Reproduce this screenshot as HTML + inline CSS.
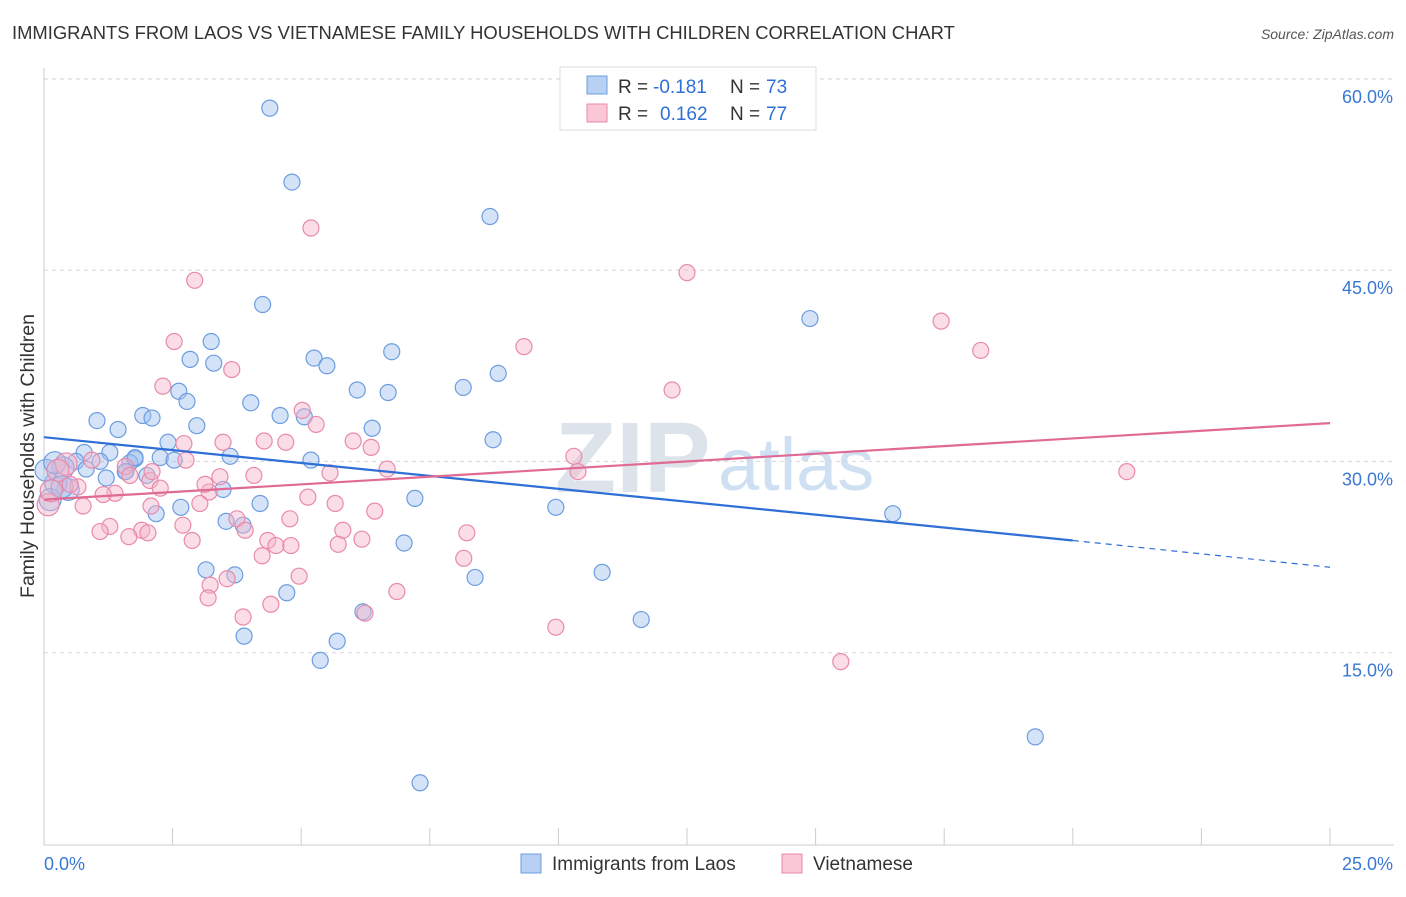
<!DOCTYPE html>
<html><head><meta charset="utf-8"><style>
body{margin:0;background:#fff;font-family:"Liberation Sans",sans-serif}
svg text{font-family:"Liberation Sans",sans-serif}
</style></head><body>
<svg id="chart" width="1406" height="892">
<text x="12" y="39" font-size="18.4" fill="#333">IMMIGRANTS FROM LAOS VS VIETNAMESE FAMILY HOUSEHOLDS WITH CHILDREN CORRELATION CHART</text>
<text x="1394" y="39" font-size="14" fill="#555" font-style="italic" text-anchor="end">Source: ZipAtlas.com</text>
<text x="555" y="492" font-size="100" fill="#dde3ea" font-family="Liberation Serif" font-weight="bold">ZIP</text>
<text x="718" y="490" font-size="74" fill="#cfe0f3">atlas</text>
<g id="grid"></g><g id="axes"></g><g id="pts"></g><g id="lines"></g>
<text transform="translate(34,456) rotate(-90)" font-size="19.5" fill="#333" text-anchor="middle">Family Households with Children</text>
<g>
<rect x="560" y="67" width="256" height="63" fill="#fff" stroke="#ddd"/>
<rect x="587" y="76" width="20" height="18" fill="#b8d0f4" stroke="#6d9de0"/>
<rect x="587" y="104" width="20" height="18" fill="#f9c7d6" stroke="#e98aab"/>
<text x="618" y="93" font-size="19" fill="#333">R =</text>
<text x="653" y="93" font-size="19" fill="#2f6fd6">-0.181</text>
<text x="730" y="93" font-size="19" fill="#333">N =</text>
<text x="766" y="93" font-size="19" fill="#2f6fd6">73</text>
<text x="618" y="120" font-size="19" fill="#333">R =</text>
<text x="660" y="120" font-size="19" fill="#2f6fd6">0.162</text>
<text x="730" y="120" font-size="19" fill="#333">N =</text>
<text x="766" y="120" font-size="19" fill="#2f6fd6">77</text>
</g>
<g>
<rect x="521" y="854" width="20" height="19" fill="#b8d0f4" stroke="#6d9de0"/>
<text x="552" y="870" font-size="19" fill="#333">Immigrants from Laos</text>
<rect x="782" y="854" width="20" height="19" fill="#f9c7d6" stroke="#e98aab"/>
<text x="813" y="870" font-size="19" fill="#333">Vietnamese</text>
</g>
</svg>
<script>
const xTicks=[0,2.5,5,7.5,10,12.5,15,17.5,20,22.5,25];
const yTicks=[15,30,45,60];
const yTickLabels=["15.0%","30.0%","45.0%","60.0%"];
const laosX=[4.39,4.82,8.67,4.25,14.89,3.25,6.76,2.84,3.30,5.25,5.50,8.83,2.62,2.78,6.09,6.69,8.15,4.02,1.92,2.10,1.03,4.59,5.06,1.44,2.97,6.38,2.41,8.73,0.78,1.28,3.62,2.26,2.53,1.77,1.09,0.62,5.19,0.37,1.67,1.58,2.00,1.21,3.48,0.47,0.23,0.04,7.21,4.20,9.95,2.18,16.50,2.66,3.54,3.87,7.00,3.15,3.71,10.85,8.38,4.72,6.20,11.61,3.89,5.70,5.37,19.27,7.31,0.12,0.35,1.59,0.82,0.21,1.77];
const laosY=[57.7,51.9,49.2,42.3,41.2,39.4,38.6,38.0,37.7,38.1,37.5,36.9,35.5,34.7,35.6,35.4,35.8,34.6,33.6,33.4,33.2,33.6,33.5,32.5,32.8,32.6,31.5,31.7,30.7,30.7,30.4,30.3,30.1,30.2,30.0,30.0,30.1,29.5,29.9,29.2,28.9,28.7,27.8,27.8,28.3,29.3,27.1,26.7,26.4,25.9,25.9,26.4,25.3,25.0,23.6,21.5,21.1,21.3,20.9,19.7,18.2,17.6,16.3,15.9,14.4,8.4,4.8,27.0,28.0,29.2,29.4,29.9,30.3];
const vietX=[5.19,12.50,2.93,17.44,18.21,9.33,2.53,3.65,2.31,12.21,5.02,5.29,3.48,4.28,4.70,6.01,6.36,2.76,10.30,6.67,10.38,21.05,1.58,0.93,0.43,0.27,0.66,2.06,2.26,0.76,1.38,4.08,3.42,3.21,5.13,5.66,6.43,3.03,2.08,3.75,2.70,1.28,1.09,1.90,2.02,1.65,2.88,4.35,4.51,4.80,5.81,5.72,6.18,8.22,4.24,8.16,4.96,3.56,3.23,3.19,6.86,4.41,3.87,6.24,9.95,15.49,0.08,0.51,1.15,2.10,2.72,3.91,0.14,1.67,4.78,3.13,5.56];
const vietY=[48.3,44.8,44.2,41.0,38.7,39.0,39.4,37.2,35.9,35.6,34.0,32.9,31.5,31.6,31.5,31.6,31.1,30.1,30.4,29.4,29.2,29.2,29.6,30.1,29.8,29.3,28.0,28.5,27.9,26.5,27.5,28.9,28.8,27.6,27.2,26.7,26.1,26.7,26.5,25.5,25.0,24.9,24.5,24.6,24.4,24.1,23.8,23.8,23.4,23.4,24.6,23.5,23.9,24.4,22.6,22.4,21.0,20.8,20.3,19.3,19.8,18.8,17.8,18.1,17.0,14.3,26.6,28.2,27.4,29.2,31.4,24.6,27.7,28.9,25.5,28.2,29.1];
const laosTrend=[[0,31.9],[20,23.8],[25,21.7]];
const vietTrend=[[0,27.0],[25,33.0]];
const X0=44,X1=1330,Y0=844,PPY=191.3/15;
const sx=v=>X0+(v/25)*(X1-X0), sy=v=>Y0-v*PPY;
const NS="http://www.w3.org/2000/svg";
function mk(parent,tag,attrs){const e=document.createElementNS(NS,tag);for(const k in attrs)e.setAttribute(k,attrs[k]);document.getElementById(parent).appendChild(e);return e;}
yTicks.forEach((t,i)=>{
 const g=mk('grid','line',{x1:X0,x2:1394,y1:sy(t),y2:sy(t),stroke:'#d8d8d8','stroke-dasharray':'4,4'});
 
 
 const l=mk('axes','text',{x:1393,y:sy(t)+24,'font-size':18,fill:'#3a78d4','text-anchor':'end'});
 l.textContent=yTickLabels[i];
 
 
});
const tg=mk('grid','line',{x1:X0,x2:1394,y1:79,y2:79,stroke:'#d8d8d8','stroke-dasharray':'4,4'});


const xa=mk('axes','line',{x1:X0,x2:1394,y1:Y0+1,y2:Y0+1,stroke:'#ccc'});


const ya=mk('axes','line',{x1:X0,x2:X0,y1:68,y2:Y0+1,stroke:'#ccc'});


xTicks.forEach(t=>{
 const k=mk('axes','line',{x1:sx(t),x2:sx(t),y1:Y0-16,y2:Y0+1,stroke:'#ccc'});
 
 
});
const xl0=mk('axes','text',{x:44,y:870,'font-size':18,fill:'#3a78d4'});xl0.textContent='0.0%';


const xl1=mk('axes','text',{x:1393,y:870,'font-size':18,fill:'#3a78d4','text-anchor':'end'});xl1.textContent='25.0%';


laosX.forEach((v,i)=>{
 const c=mk('pts','circle',{cx:sx(v),cy:sy(laosY[i]),r:v<0.5?11:8,fill:'rgba(160,192,240,0.45)',stroke:'#6d9de0','stroke-width':1.2});
 
 
});
vietX.forEach((v,i)=>{
 const c=mk('pts','circle',{cx:sx(v),cy:sy(vietY[i]),r:v<0.5?11:8,fill:'rgba(245,180,202,0.45)',stroke:'#e98aab','stroke-width':1.2});
 
 
});
const b1=mk('lines','line',{x1:sx(laosTrend[0][0]),y1:sy(laosTrend[0][1]),x2:sx(laosTrend[1][0]),y2:sy(laosTrend[1][1]),stroke:'#2f6fd6','stroke-width':2.2});


const b2=mk('lines','line',{x1:sx(laosTrend[1][0]),y1:sy(laosTrend[1][1]),x2:sx(laosTrend[2][0]),y2:sy(laosTrend[2][1]),stroke:'#2f6fd6','stroke-width':1.2,'stroke-dasharray':'6,5'});


const p1=mk('lines','line',{x1:sx(vietTrend[0][0]),y1:sy(vietTrend[0][1]),x2:sx(vietTrend[1][0]),y2:sy(vietTrend[1][1]),stroke:'#e06a93','stroke-width':2.2});


</script>
</body></html>
